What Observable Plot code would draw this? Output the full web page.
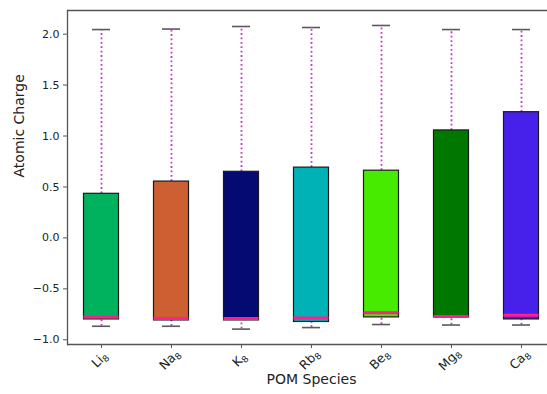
<!DOCTYPE html>
<html>
<head>
<meta charset="utf-8">
<script src="https://cdn.jsdelivr.net/npm/d3@7"></script>
<script src="https://cdn.jsdelivr.net/npm/@observablehq/plot@0.6"></script>
<style>
  html, body { margin: 0; padding: 0; background: #fff; }
  #chart svg { display: block; }
</style>
</head>
<body>
<div id="chart"></div>
<script>
// Data
const species = ["Li₈", "Na₈", "K₈", "Rb₈", "Be₈", "Mg₈", "Ca₈"];
const whiskerHigh = [2.045, 2.05, 2.075, 2.065, 2.085, 2.045, 2.045];
const q3 = [0.433, 0.553, 0.649, 0.69, 0.66, 1.055, 1.234];
const median = [-0.775, -0.79, -0.79, -0.785, -0.735, -0.77, -0.76];
const q1 = [-0.80, -0.81, -0.81, -0.825, -0.78, -0.78, -0.80];
const whiskerLow = [-0.867, -0.867, -0.895, -0.88, -0.85, -0.855, -0.855];
const boxColors = ["#00b15e", "#cc6032", "#050a72", "#00b2b6", "#47eb00", "#007800", "#4720ea"];
const yTicks = [-1.0, -0.5, 0.0, 0.5, 1.0, 1.5, 2.0];

const rows = species.map((s, i) => ({
  s, hi: whiskerHigh[i], q3: q3[i], med: median[i], q1: q1[i], lo: whiskerLow[i], c: boxColors[i]
}));

const yDomain = [-1.046, 2.232];
const font = "DejaVu Sans, sans-serif";

const chart = Plot.plot({
  width: 547,
  height: 394,
  marginLeft: 67,
  marginRight: 0,
  marginTop: 10,
  marginBottom: 50,
  style: { fontFamily: font, fontSize: "11px", color: "#222", background: "#fff" },
  x: { type: "band", domain: species, range: [66, 556], padding: 0 },
  y: { domain: yDomain },
  marks: [
    // whiskers (dotted)
    Plot.ruleX(rows, { x: "s", y1: "q3", y2: "hi", stroke: "#c23bc4", strokeWidth: 1.8, strokeDasharray: "1.8,2.6" }),
    Plot.ruleX(rows, { x: "s", y1: "lo", y2: "q1", stroke: "#c23bc4", strokeWidth: 1.8, strokeDasharray: "1.8,2.6" }),
    // caps
    Plot.tickY(rows, { x: "s", y: "hi", stroke: "#5a5a5a", strokeWidth: 1.6, inset: 26 }),
    Plot.tickY(rows, { x: "s", y: "lo", stroke: "#5a5a5a", strokeWidth: 1.6, inset: 26 }),
    // boxes
    Plot.barY(rows, { x: "s", y1: "q1", y2: "q3", fill: "c", stroke: "#1a1a1a", strokeWidth: 1.2, insetLeft: 17.5, insetRight: 17.5 }),
    // medians
    Plot.tickY(rows, { x: "s", y: "med", stroke: "#ff1e90", strokeWidth: 3, inset: 17.5 }),
    // spines
    Plot.ruleY([yDomain[1]], { stroke: "#555", strokeWidth: 1.3 }),
    Plot.ruleY([yDomain[0]], { stroke: "#555", strokeWidth: 1.3 }),
    Plot.frame({ anchor: "left", stroke: "#555", strokeWidth: 1.3 }),
    Plot.axisY({ ticks: yTicks, tickFormat: d3.format(".1f"), tickSize: 4, tickPadding: 4, label: null, stroke: "#555", fontSize: 11 }),
    Plot.axisX({ tickSize: 4, tickFormat: () => "", label: null, stroke: "#555" }),
    // rotated category labels
    Plot.text(species, { x: d => d, frameAnchor: "bottom", dy: 18, dx: 1, rotate: -45, textAnchor: "middle", fontSize: 12.5, fill: "#222", className: "cat-label" }),
    // axis titles
    Plot.text(["POM Species"], { x: () => species[3], frameAnchor: "bottom", dy: 39, fontSize: 14, fill: "#222" }),
    Plot.text(["Atomic Charge"], { frameAnchor: "left", dx: -48, rotate: -90, fontSize: 14, fill: "#222" })
  ]
});

// render the "₈" of each category label as a real subscript
d3.select(chart).selectAll("g.cat-label text").each(function () {
  const t = this.textContent;
  const m = t.match(/^(.*?)([₀-₉]+)$/);
  if (!m) return;
  const digits = m[2].replace(/[₀-₉]/g, c => String(c.charCodeAt(0) - 0x2080));
  const sel = d3.select(this);
  sel.text(null);
  sel.append("tspan").text(m[1]);
  sel.append("tspan").attr("font-size", "9px").attr("dy", "0.3em").text(digits);
});

document.getElementById("chart").appendChild(chart);
</script>
</body>
</html>
